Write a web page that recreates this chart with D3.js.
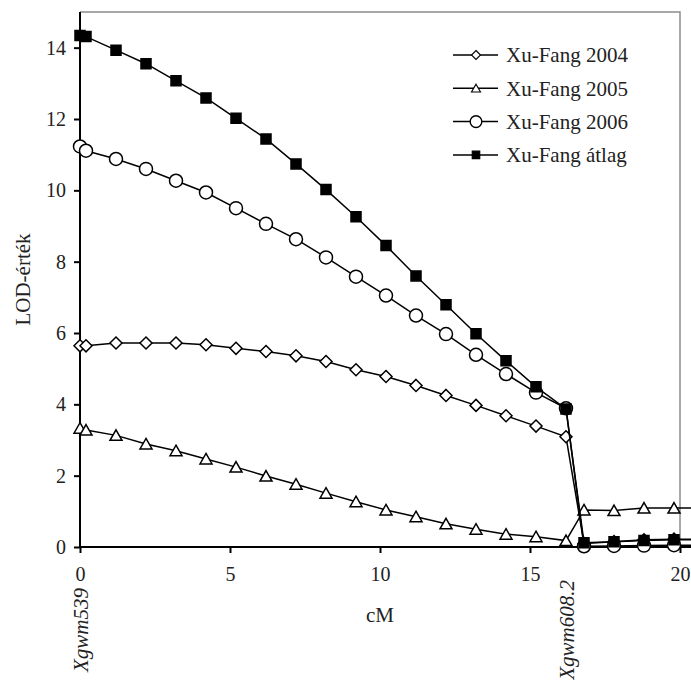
<!DOCTYPE html>
<html>
<head>
<meta charset="utf-8">
<script src="https://cdn.jsdelivr.net/npm/d3@7"></script>
<style>
  body { margin: 0; background: #fff; }
  svg { display: block; font-family: "Liberation Serif", "Times New Roman", serif; }
</style>
</head>
<body>
<script>
var width = 691;
var height = 680;

// cM positions of the markers
var positions = [0, 0.2, 1.2, 2.2, 3.2, 4.2, 5.2, 6.2, 7.2, 8.2, 9.2, 10.2, 11.2, 12.2,
  13.2, 14.2, 15.2, 16.2, 16.8, 17.8, 18.8, 19.8, 20.8];

var xf2004 = [5.64, 5.64, 5.72, 5.72, 5.72, 5.67, 5.57, 5.48, 5.36, 5.2, 4.97, 4.78, 4.53,
  4.25, 3.97, 3.68, 3.39, 3.09, 0.1, 0.15, 0.2, 0.22, 0.22];
var xf2005 = [3.33, 3.28, 3.13, 2.89, 2.70, 2.47, 2.24, 1.99, 1.76, 1.51, 1.27, 1.04, 0.85,
  0.65, 0.50, 0.36, 0.29, 0.18, 1.04, 1.02, 1.09, 1.09, 1.09];
var xf2006 = [11.23, 11.11, 10.88, 10.60, 10.27, 9.94, 9.5, 9.06, 8.63, 8.12, 7.58, 7.05,
  6.49, 5.97, 5.39, 4.85, 4.33, 3.89, 0.02, 0.03, 0.04, 0.05, 0.05];
var xfAtlag = [14.34, 14.31, 13.93, 13.55, 13.07, 12.59, 12.02, 11.44, 10.74, 10.02, 9.26,
  8.45, 7.60, 6.79, 5.98, 5.22, 4.49, 3.87, 0.12, 0.15, 0.18, 0.2, 0.2];

var seriesNames = ["Xu-Fang 2004", "Xu-Fang 2005", "Xu-Fang 2006", "Xu-Fang átlag"];
var seriesValues = [xf2004, xf2005, xf2006, xfAtlag];
var seriesMarkers = ["diamond", "triangle", "circle", "square"];

var xTicks = [0, 5, 10, 15, 20];
var yTicks = [0, 2, 4, 6, 8, 10, 12, 14];
var markerLabels = [{ cm: 0, text: "Xgwm539", y: 588 }, { cm: 16.2, text: "Xgwm608.2", y: 580 }];

// note: "top" is reserved on window, so plot edges get their own names
var plotLeft = 80, plotRight = 680, plotTop = 12, plotBottom = 547;

var x = d3.scaleLinear().domain([0, 20]).range([plotLeft, plotRight]);
var y = d3.scaleLinear().domain([0, 15]).range([plotBottom, plotTop]);

var svg = d3.select("body")
  .append("svg")
  .attr("width", width)
  .attr("height", height);

// gray plot-area border (top and right)
svg.append("path")
  .attr("d", "M" + plotLeft + "," + plotTop + "H" + plotRight + "V" + plotBottom)
  .attr("fill", "none")
  .attr("stroke", "#8c8c8c")
  .attr("stroke-width", 1.5);

var series = seriesNames.map(function(name, i) {
  return {
    name: name,
    marker: seriesMarkers[i],
    points: positions.map(function(p, j) { return [p, seriesValues[i][j]]; })
  };
});

function markerPath(type) {
  if (type === "diamond") return "M0,-6L6,0L0,6L-6,0Z";
  if (type === "triangle") return "M0,-5.5L6,5L-6,5Z";
  if (type === "square") return "M-5,-5H5V5H-5Z";
  return d3.symbol(d3.symbolCircle, 133)();
}

var line = d3.line()
  .x(function(d) { return x(d[0]); })
  .y(function(d) { return y(d[1]); });

// axes
var xAxis = svg.append("g")
  .attr("transform", "translate(0," + plotBottom + ")")
  .call(d3.axisBottom(x).tickValues(xTicks).tickSize(6).tickPadding(14));
xAxis.select(".domain").attr("d", "M" + plotLeft + ",0H" + width);

var yAxis = svg.append("g")
  .attr("transform", "translate(" + plotLeft + ",0)")
  .call(d3.axisLeft(y).tickValues(yTicks).tickSize(6).tickPadding(8));
yAxis.select(".domain").attr("d", "M0," + plotTop + "V" + plotBottom);

svg.selectAll(".domain, .tick line")
  .attr("stroke", "#000")
  .attr("stroke-width", 2);
svg.selectAll(".tick text")
  .attr("font-family", "Liberation Serif")
  .attr("font-size", 20)
  .attr("fill", "#222");

var groups = svg.selectAll("g.series")
  .data(series)
  .enter().append("g")
  .attr("class", "series");

groups.append("path")
  .attr("d", function(d) { return line(d.points); })
  .attr("fill", "none")
  .attr("stroke", "#000")
  .attr("stroke-width", 1.5);

groups.each(function(s) {
  d3.select(this).selectAll("path.m")
    .data(s.points)
    .enter().append("path")
    .attr("class", "m")
    .attr("d", markerPath(s.marker))
    .attr("transform", function(d) { return "translate(" + x(d[0]) + "," + y(d[1]) + ")"; })
    .attr("fill", s.marker === "square" ? "#000" : "#fff")
    .attr("stroke", "#000")
    .attr("stroke-width", 1.5);
});

svg.append("text")
  .attr("transform", "translate(30," + (plotTop + plotBottom) / 2 + ") rotate(-90)")
  .attr("text-anchor", "middle")
  .attr("font-size", 21)
  .attr("fill", "#222")
  .text("LOD-érték");

svg.append("text")
  .attr("x", (plotLeft + plotRight) / 2)
  .attr("y", 622)
  .attr("text-anchor", "middle")
  .attr("font-size", 21)
  .attr("fill", "#222")
  .text("cM");

svg.selectAll("text.locus")
  .data(markerLabels)
  .enter().append("text")
  .attr("class", "locus")
  .attr("transform", function(d) { return "translate(" + (x(d.cm) + 8) + "," + d.y + ") rotate(-90)"; })
  .attr("text-anchor", "end")
  .attr("font-size", 21)
  .attr("font-style", "italic")
  .attr("fill", "#222")
  .text(function(d) { return d.text; });

// legend
var legend = svg.selectAll("g.legend")
  .data(series)
  .enter().append("g")
  .attr("class", "legend")
  .attr("transform", function(d, i) { return "translate(476," + (55 + i * 33.3) + ")"; });

legend.append("line")
  .attr("x1", -23).attr("x2", 22)
  .attr("stroke", "#000")
  .attr("stroke-width", 1.5);

legend.append("path")
  .attr("d", function(d) { return markerPath(d.marker); })
  .attr("transform", function(d) { return d.marker === "circle" ? "scale(0.9)" : "scale(0.75)"; })
  .attr("fill", function(d) { return d.marker === "square" ? "#000" : "#fff"; })
  .attr("stroke", "#000")
  .attr("stroke-width", 1.5);

legend.append("text")
  .attr("x", 30)
  .attr("dy", "0.35em")
  .attr("font-size", 21)
  .attr("fill", "#222")
  .text(function(d) { return d.name; });
</script>
</body>
</html>
